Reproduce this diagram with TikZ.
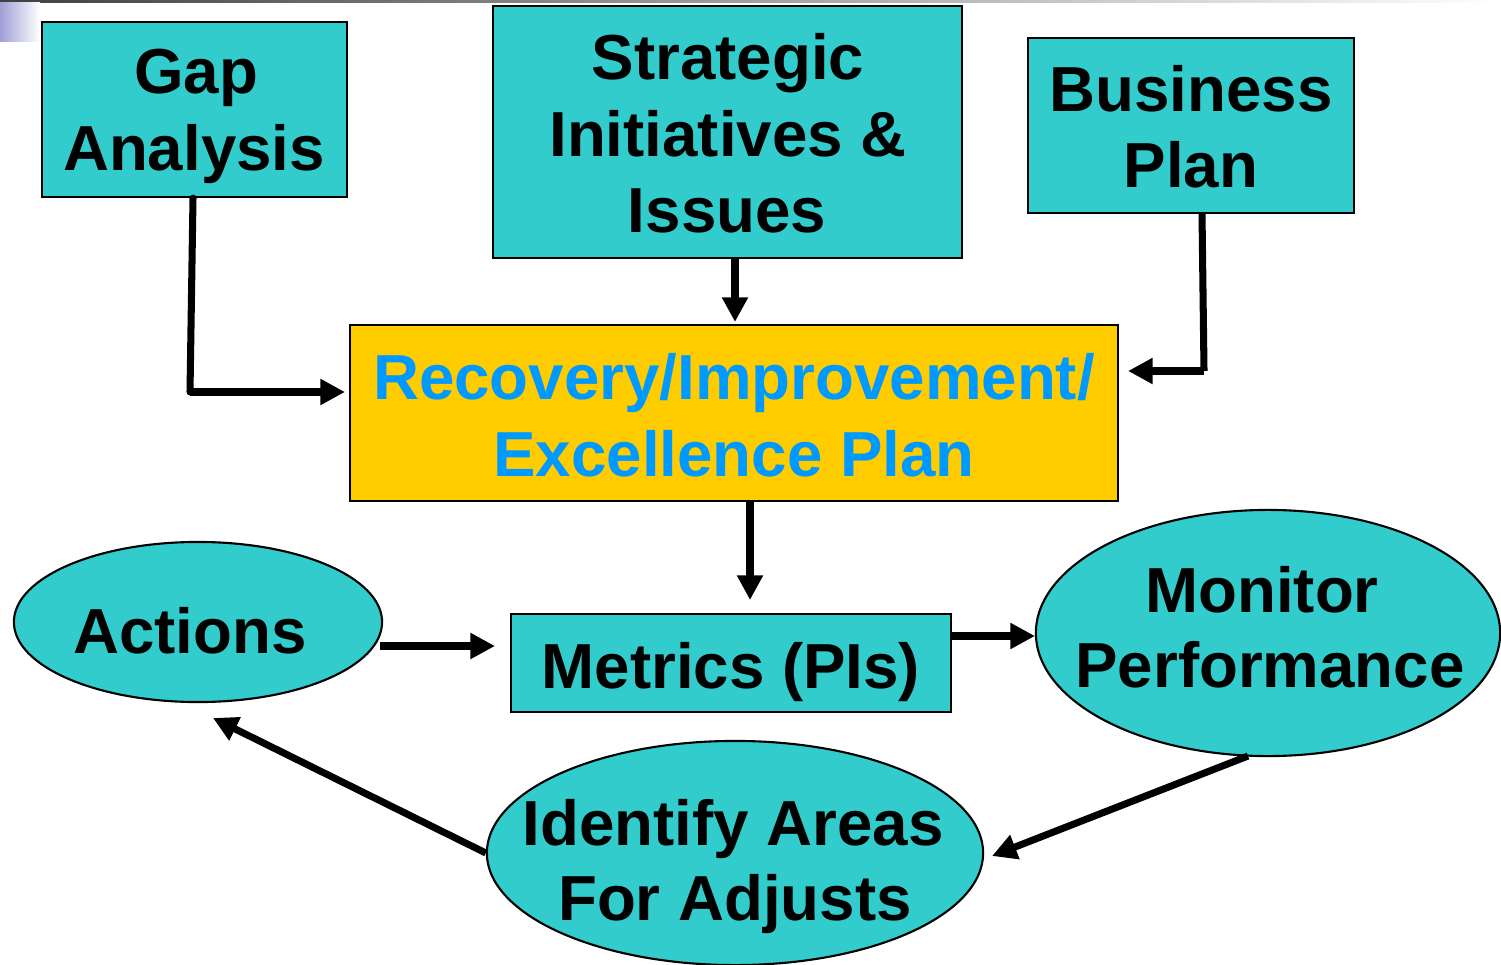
\documentclass[tikz,border=0pt]{standalone}
\usepackage{fontspec}
\setmainfont{Liberation Sans}
\usetikzlibrary{shapes.geometric,arrows.meta}
\definecolor{teal1}{RGB}{51,204,204}
\definecolor{gold1}{RGB}{255,204,0}
\definecolor{blue1}{RGB}{0,153,255}
\definecolor{lav}{RGB}{160,160,215}
\begin{document}
\begin{tikzpicture}[x=0.01cm,y=-0.01cm,
  txt/.style={font=\fontsize{18.1}{21.9}\selectfont\bfseries, inner sep=0pt, anchor=base},
  boxn/.style={draw=black, line width=0.6pt, fill=teal1, rectangle, inner sep=0pt},
  ell/.style={draw=black, line width=0.6pt, fill=teal1, ellipse, inner sep=0pt},
  conn/.style={line width=2pt, -{Triangle[length=7pt,width=7pt]}},
  plain/.style={line width=2pt}]
\useasboundingbox (0,0) rectangle (1501,964);
\fill[white] (0,0) rectangle (1501,964);
\shade[left color=black!75, right color=white] (0,0) rectangle (1501,3);
\shade[left color=lav, right color=white] (0,3) rectangle (40,42);

% shapes
\node[boxn, minimum width=3.05cm, minimum height=1.75cm] (gap) at (194.5,109.5) {};
\node[boxn, minimum width=4.69cm, minimum height=2.52cm] (strat) at (727.5,132) {};
\node[boxn, minimum width=3.26cm, minimum height=1.75cm] (biz) at (1191,125.5) {};
\node[boxn, fill=gold1, minimum width=7.68cm, minimum height=1.76cm] (plan) at (734,413) {};
\node[boxn, minimum width=4.40cm, minimum height=0.98cm] (met) at (731,663) {};
\node[ell, minimum width=3.68cm, minimum height=1.60cm] (act) at (198,622) {};
\node[ell, minimum width=4.64cm, minimum height=2.46cm] (mon) at (1268,633) {};
\node[ell, minimum width=4.96cm, minimum height=2.24cm] (idf) at (735,853) {};

% texts
\node[txt] (gapA) at (196,94) {Gap};
\node[txt] (gapB) at (194,171) {Analysis};
\node[txt] (strA) at (728,80) {Strategic};
\node[txt] (strB) at (728,157) {Initiatives \&};
\node[txt] (strC) at (727,233) {Issues};
\node[txt] (bizA) at (1191,112) {Business};
\node[txt] (bizB) at (1191,188) {Plan};
\node[txt, text=blue1] (plnA) at (734,399) {Recovery/Improvement/};
\node[txt, text=blue1] (plnB) at (734,476) {Excellence Plan};
\node[txt] (metA) at (731,688) {Metrics (PIs)};
\node[txt] (actA) at (190,653) {Actions};
\node[txt] (monA) at (1262,612) {Monitor};
\node[txt] (monB) at (1270,687) {Performance};
\node[txt] (idfA) at (733,845) {Identify Areas};
\node[txt] (idfB) at (735,920) {For Adjusts};

% connectors
\coordinate (g1) at (190,392);
\coordinate (b1) at (1204,371);
\draw[plain, line cap=round] (gap.south -| 193,0) -- (g1);
\draw[conn] (g1) -- (345,392);
\draw[conn] (strat.south -| 735,0) -- (735,322);
\draw[plain] (biz.south -| 1202,0) -- (b1);
\draw[conn] (b1) -- (1128,371);
\draw[conn] (plan.south -| 750,0) -- (750,600);
\draw[conn] (380,646) -- (495,646);
\draw[conn] (met.east |- 0,636) -- (1035,636);
\draw[conn] (1248,756) -- (992,856);
\draw[conn] (idf.west) -- (213,718);
\end{tikzpicture}
\end{document}
